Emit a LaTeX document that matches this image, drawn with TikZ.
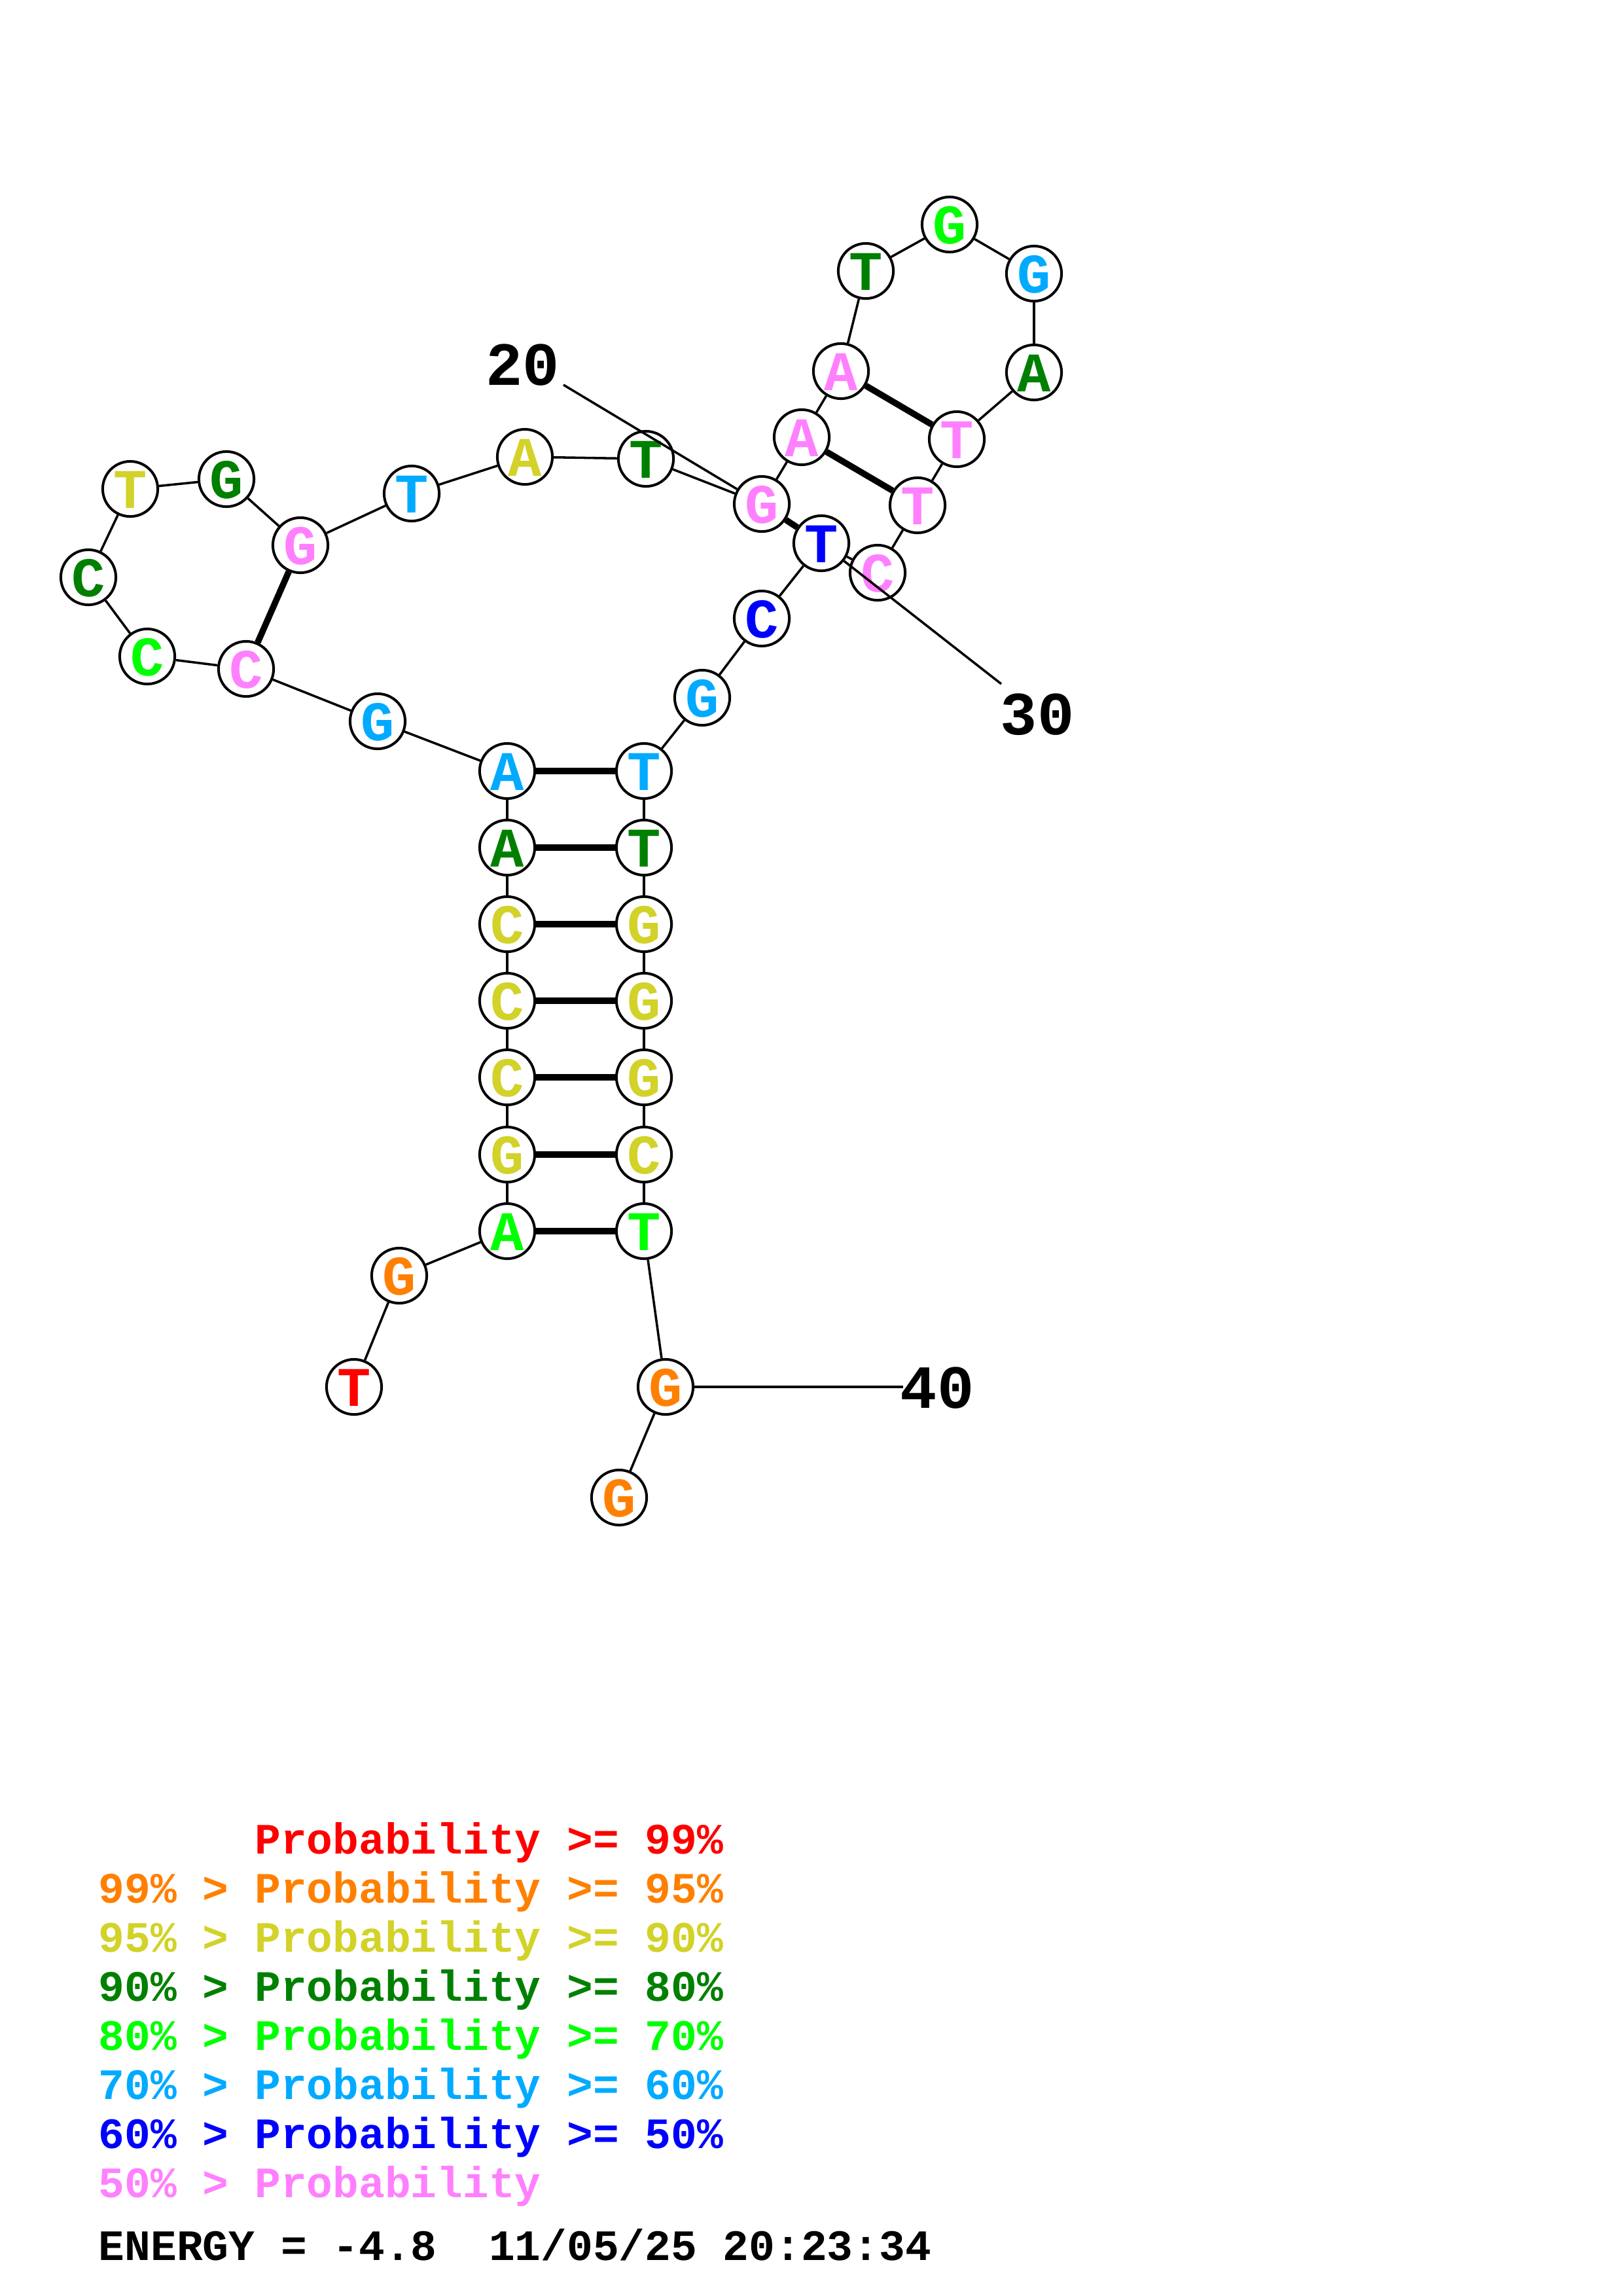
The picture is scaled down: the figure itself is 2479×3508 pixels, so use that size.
\documentclass[tikz,border=0pt]{standalone}
\usepackage{fontspec}
\setmonofont{Liberation Mono}
\definecolor{pR}{RGB}{255,0,0}
\definecolor{pO}{RGB}{255,128,0}
\definecolor{pY}{RGB}{210,210,40}
\definecolor{pDG}{RGB}{0,128,0}
\definecolor{pG}{RGB}{0,255,0}
\definecolor{pLB}{RGB}{0,170,255}
\definecolor{pB}{RGB}{0,0,255}
\definecolor{pP}{RGB}{255,128,255}
\begin{document}
\begin{tikzpicture}[x=0.24bp,y=-0.24bp,
  nt/.style={circle,draw=black,fill=white,line width=0.96bp,minimum size=20.2bp,inner sep=0pt,
    font=\fontsize{20.5bp}{20.5bp}\selectfont\ttfamily\bfseries,text height=14.3bp,text depth=0pt},
  bb/.style={line width=0.85bp},
  bpair/.style={line width=2.3bp},
  lbl/.style={inner sep=0pt,font=\fontsize{22.5bp}{22.5bp}\selectfont\ttfamily\bfseries},
  leg/.style={anchor=base west,inner sep=0pt,font=\fontsize{15.9bp}{15.9bp}\selectfont\ttfamily\bfseries}]
\useasboundingbox (0,0) rectangle (2479,3508);
% nucleotides
\node[nt,text=pR]  (n1)  at (541,2119) {T};
\node[nt,text=pO]  (n2)  at (610,1949) {G};
\node[nt,text=pG]  (n3)  at (775,1881) {A};
\node[nt,text=pY]  (n4)  at (775,1764) {G};
\node[nt,text=pY]  (n5)  at (775,1646) {C};
\node[nt,text=pY]  (n6)  at (775,1529) {C};
\node[nt,text=pY]  (n7)  at (775,1412) {C};
\node[nt,text=pDG] (n8)  at (775,1295) {A};
\node[nt,text=pLB] (n9)  at (775,1178) {A};
\node[nt,text=pLB] (n10) at (577,1102) {G};
\node[nt,text=pP]  (n11) at (376,1022) {C};
\node[nt,text=pG]  (n12) at (225,1003) {C};
\node[nt,text=pDG] (n13) at (135,882) {C};
\node[nt,text=pY]  (n14) at (199,747) {T};
\node[nt,text=pDG] (n15) at (346,732) {G};
\node[nt,text=pP]  (n16) at (459,833) {G};
\node[nt,text=pLB] (n17) at (629,754) {T};
\node[nt,text=pY]  (n18) at (802,698) {A};
\node[nt,text=pDG] (n19) at (987,701) {T};
\node[nt,text=pP]  (n20) at (1164,770) {G};
\node[nt,text=pP]  (n21) at (1225,668) {A};
\node[nt,text=pP]  (n22) at (1285,567) {A};
\node[nt,text=pDG] (n23) at (1323,414) {T};
\node[nt,text=pG]  (n24) at (1451,343) {G};
\node[nt,text=pLB] (n25) at (1580,418) {G};
\node[nt,text=pDG] (n26) at (1580,569) {A};
\node[nt,text=pP]  (n27) at (1462,671) {T};
\node[nt,text=pP]  (n28) at (1402,772) {T};
\node[nt,text=pP]  (n29) at (1341,875) {C};
\node[nt,text=pB]  (n30) at (1255,830) {T};
\node[nt,text=pB]  (n31) at (1164,945) {C};
\node[nt,text=pLB] (n32) at (1073,1066) {G};
\node[nt,text=pLB] (n33) at (984,1178) {T};
\node[nt,text=pDG] (n34) at (984,1295) {T};
\node[nt,text=pY]  (n35) at (984,1412) {G};
\node[nt,text=pY]  (n36) at (984,1529) {G};
\node[nt,text=pY]  (n37) at (984,1646) {G};
\node[nt,text=pY]  (n38) at (984,1764) {C};
\node[nt,text=pG]  (n39) at (984,1881) {T};
\node[nt,text=pO]  (n40) at (1017,2119) {G};
\node[nt,text=pO]  (n41) at (946,2288) {G};
% backbone
\foreach \a/\b in {1/2,2/3,3/4,4/5,5/6,6/7,7/8,8/9,9/10,10/11,11/12,12/13,13/14,14/15,15/16,16/17,17/18,18/19,19/20,20/21,21/22,22/23,23/24,24/25,25/26,26/27,27/28,28/29,29/30,30/31,31/32,32/33,33/34,34/35,35/36,36/37,37/38,38/39,39/40,40/41}
  \draw[bb] (n\a) -- (n\b);
% base pairs
\foreach \a/\b in {3/39,4/38,5/37,6/36,7/35,8/34,9/33,11/16,20/30,21/28,22/27}
  \draw[bpair] (n\a) -- (n\b);
% position labels
\coordinate (c20) at (861,588);
\coordinate (c30) at (1530,1045);
\coordinate (c40) at (1380,2119);
\node[lbl] (l20) at (799,558) {20};
\node[lbl] (l30) at (1585,1092) {30};
\node[lbl] (l40) at (1432,2121) {40};
\draw[bb] (n20) -- (c20);
\draw[bb] (n30) -- (c30);
\draw[bb] (n40) -- (c40);
% legend
\node[leg,text=pR]  (g1) at (150,2832) {\phantom{99\% >} Probability >= 99\%};
\node[leg,text=pO]  (g2) at (150,2907) {99\% > Probability >= 95\%};
\node[leg,text=pY]  (g3) at (150,2982) {95\% > Probability >= 90\%};
\node[leg,text=pDG] (g4) at (150,3057) {90\% > Probability >= 80\%};
\node[leg,text=pG]  (g5) at (150,3132) {80\% > Probability >= 70\%};
\node[leg,text=pLB] (g6) at (150,3207) {70\% > Probability >= 60\%};
\node[leg,text=pB]  (g7) at (150,3282) {60\% > Probability >= 50\%};
\node[leg,text=pP]  (g8) at (150,3357) {50\% > Probability};
\node[leg,text=black] (g9) at (150,3453) {ENERGY = -4.8\ \ 11/05/25 20:23:34};
\end{tikzpicture}
\end{document}
